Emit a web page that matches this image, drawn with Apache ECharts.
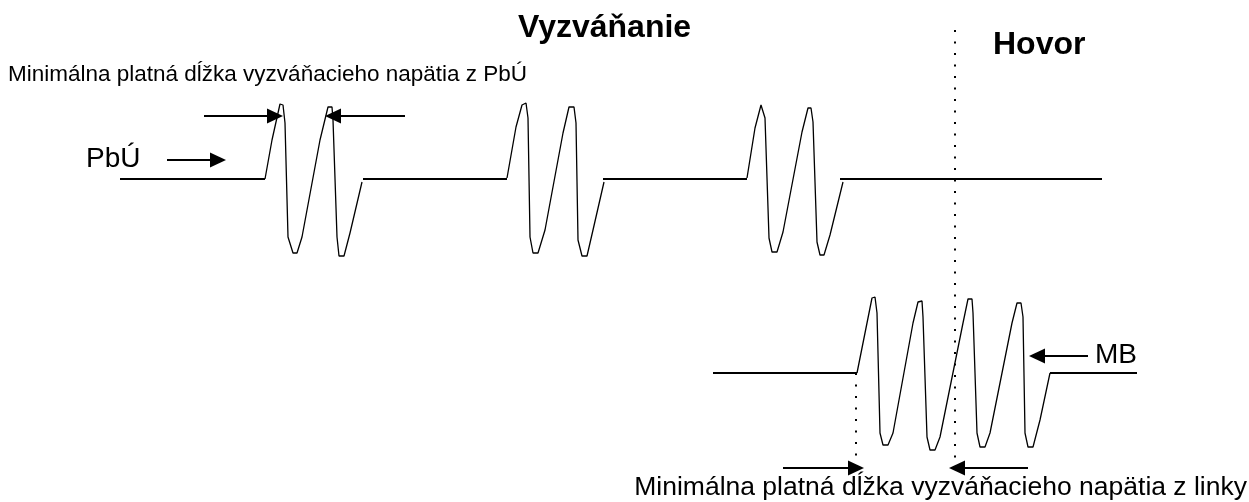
<!DOCTYPE html>
<html>
<head>
<meta charset="utf-8">
<title>Vyzváňanie / Hovor</title>
<script src="https://cdn.jsdelivr.net/npm/echarts@6/dist/echarts.min.js"></script>
<style>
  html, body { margin: 0; padding: 0; background: #fff; }
  #chart { width: 1249px; height: 502px; }
</style>
</head>
<body>
<div id="chart"></div>
<script>
// time (x) / level (y) points, same units as the canvas
var pbuBaseline = [
    [[120, 179], [265, 179]],
    [[363, 179], [507, 179]],
    [[603, 179], [747, 179]],
    [[840, 179], [1102, 179]]
];
var pbuBurst1 = [[265,179],[272,140],[280,104],[283,105],[285,123],[288,237],[293,253],[297,253],[302,237],
    [320,140],[328,107],[332,107],[333,120],[337,237],[339,256],[344,256],[350,233],[362,182]];
var pbuBurst2 = [[507,178],[516,127],[522,105],[526,103],[528,118],[530,237],[533,253],[538,253],[545,230],
    [563,133],[569,107],[574,107],[576,123],[578,240],[582,256],[587,256],[593,230],[604,182]];
var pbuBurst3 = [[747,178],[755,128],[761,105],[763,104],[765,118],[769,238],[772,252],[777,252],[783,232],
    [802,132],[808,108],[811,108],[813,122],[817,242],[820,255],[824,255],[830,235],[843,182]];

var mbBaseline = [
    [[713, 373], [857, 373]],
    [[1050, 373], [1137, 373]]
];
var mbBurst = [[857,373],[867,323],[872,298],[875,297],[877,313],[880,433],[883,445],[888,445],[893,433],
    [913,323],[918,302],[922,301],[923,317],[927,437],[930,450],[935,450],[940,437],
    [963,323],[968,299],[972,299],[973,313],[977,433],[980,447],[985,447],[990,433],
    [1012,323],[1017,303],[1021,303],[1023,317],[1025,433],[1028,447],[1033,447],[1040,420],[1050,373]];

// dotted markers (ringing start / call start)
var dottedLines = [
    [[955, 30], [955, 472]],
    [[856, 373], [856, 472]]
];

// arrows: [from, to]
var arrows = [
    [[204, 116], [275, 116]],
    [[405, 116], [333, 116]],
    [[167, 160], [218, 160]],
    [[1088, 356], [1037, 356]],
    [[783, 468], [856, 468]],
    [[1028, 468], [957, 468]]
];

var chart = echarts.init(document.getElementById('chart'));

function lineSeries(name, data, width, type) {
    return {
        name: name,
        type: 'line',
        data: data,
        symbol: 'none',
        silent: true,
        animation: false,
        lineStyle: { color: '#000', width: width, type: type || 'solid' }
    };
}

var series = [];
pbuBaseline.forEach(function (seg, i) { series.push(lineSeries('pbuBase' + i, seg, 2)); });
[pbuBurst1, pbuBurst2, pbuBurst3].forEach(function (b, i) { series.push(lineSeries('pbuBurst' + i, b, 1.3)); });
mbBaseline.forEach(function (seg, i) { series.push(lineSeries('mbBase' + i, seg, 2)); });
series.push(lineSeries('mbBurst', mbBurst, 1.3));
dottedLines.forEach(function (seg, i) { series.push(lineSeries('dot' + i, seg, 2, [2, 9.5])); });

// arrows drawn as markLines
series.push({
    type: 'line',
    data: [],
    silent: true,
    animation: false,
    markLine: {
        silent: true,
        animation: false,
        symbol: ['none', 'triangle'],
        symbolSize: [15, 16],
        label: { show: false },
        lineStyle: { color: '#000', width: 2, type: 'solid' },
        data: arrows.map(function (a) {
            return [{ coord: a[0] }, { coord: a[1] }];
        })
    }
});

var font = 'Liberation Sans, Arial, Helvetica, sans-serif';

option = {
    backgroundColor: '#fff',
    grid: { left: 0, right: 0, top: 0, bottom: 0 },
    xAxis: { type: 'value', min: 0, max: 1249, show: false },
    yAxis: { type: 'value', min: 0, max: 502, inverse: true, show: false },
    series: series,
    graphic: [
        { type: 'text', left: 518, top: 12, style: { text: 'Vyzváňanie', fill: '#000', font: 'bold 32px ' + font } },
        { type: 'text', left: 993, top: 29, style: { text: 'Hovor', fill: '#000', font: 'bold 32px ' + font } },
        { type: 'text', left: 8, top: 63, style: { text: 'Minimálna platná dĺžka vyzváňacieho napätia z PbÚ', fill: '#000', font: '22.5px ' + font } },
        { type: 'text', left: 86, top: 145, style: { text: 'PbÚ', fill: '#000', font: '28px ' + font } },
        { type: 'text', left: 1095, top: 341, style: { text: 'MB', fill: '#000', font: '28px ' + font } },
        { type: 'text', right: 2, top: 474, style: { text: 'Minimálna platná dĺžka vyzváňacieho napätia z linky', fill: '#000', font: '26.5px ' + font } }
    ]
};
chart.setOption(option);
</script>
</body>
</html>
